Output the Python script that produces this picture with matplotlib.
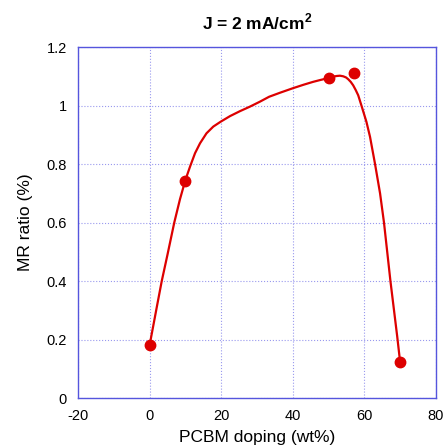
import numpy as np
import matplotlib
matplotlib.use("Agg")
import matplotlib.pyplot as plt

plt.rcParams['font.family'] = ['Liberation Sans', 'DejaVu Sans']
plt.rcParams['mathtext.fontset'] = 'custom'
plt.rcParams['mathtext.rm'] = 'Liberation Sans'
plt.rcParams['mathtext.bf'] = 'Liberation Sans:bold'
plt.rcParams['axes.unicode_minus'] = False

# measured points
doping = [0, 10, 50, 57, 70]
mr = [0.182, 0.742, 1.094, 1.111, 0.123]

# smooth fitted curve
fit_x = [0, 2, 3.4, 5, 6.9, 8.5, 10, 11.3, 12.7, 14.1, 15.9, 17.8, 19.9,
         22.5, 25.3, 28, 30.8, 33.4, 36.5, 40, 43, 45.7, 47.6, 50, 51.3, 52.3,
         53.2, 54.1, 54.9, 55.5, 56.2, 56.9, 57.6, 58.3, 59.2, 60.6, 61.6, 63,
         64.4, 65.5, 66.4, 67.3, 68.3, 69.2, 70]
fit_y = [0.18, 0.31, 0.40, 0.49, 0.60, 0.68, 0.745, 0.791, 0.837, 0.871,
         0.905, 0.928, 0.945, 0.964, 0.981, 0.996, 1.013, 1.030, 1.044, 1.059,
         1.071, 1.081, 1.087, 1.094, 1.099, 1.101, 1.102, 1.100, 1.096, 1.09,
         1.081, 1.069, 1.053, 1.035, 1.0, 0.944, 0.893, 0.80, 0.70, 0.60,
         0.50, 0.40, 0.30, 0.21, 0.124]

red = '#dd0000'

fig = plt.figure(figsize=(4.44, 4.48), dpi=100)
ax = fig.add_axes([0.1757, 0.1116, 0.806, 0.7834])

ax.plot(fit_x, fit_y, color=red, lw=1.6, zorder=3, solid_joinstyle='round')
ax.plot(doping, mr, 'o', color=red, ms=7.5, zorder=4)

ax.set_xlim(-20, 80)
ax.set_ylim(0, 1.2)
ax.set_xticks([-20, 0, 20, 40, 60, 80])
ax.set_yticks([0, 0.2, 0.4, 0.6, 0.8, 1, 1.2])
ax.set_yticklabels(['0', '0.2', '0.4', '0.6', '0.8', '1', '1.2'])

ax.grid(True, color='#9999ee', ls=':', lw=0.8)
for s in ax.spines.values():
    s.set_color('#5555dd')
    s.set_linewidth(1.0)
ax.tick_params(length=0, pad=8, labelsize=10.5)

ax.set_xlabel('PCBM doping (wt%)', fontsize=12.5, labelpad=5)
ax.set_ylabel('MR ratio (%)', fontsize=12.5, labelpad=10)
ax.set_title(r'J = 2 mA/cm$^\mathbf{2}$', fontsize=12.5, fontweight='bold', pad=13)

fig.savefig('out.png', dpi=100)
